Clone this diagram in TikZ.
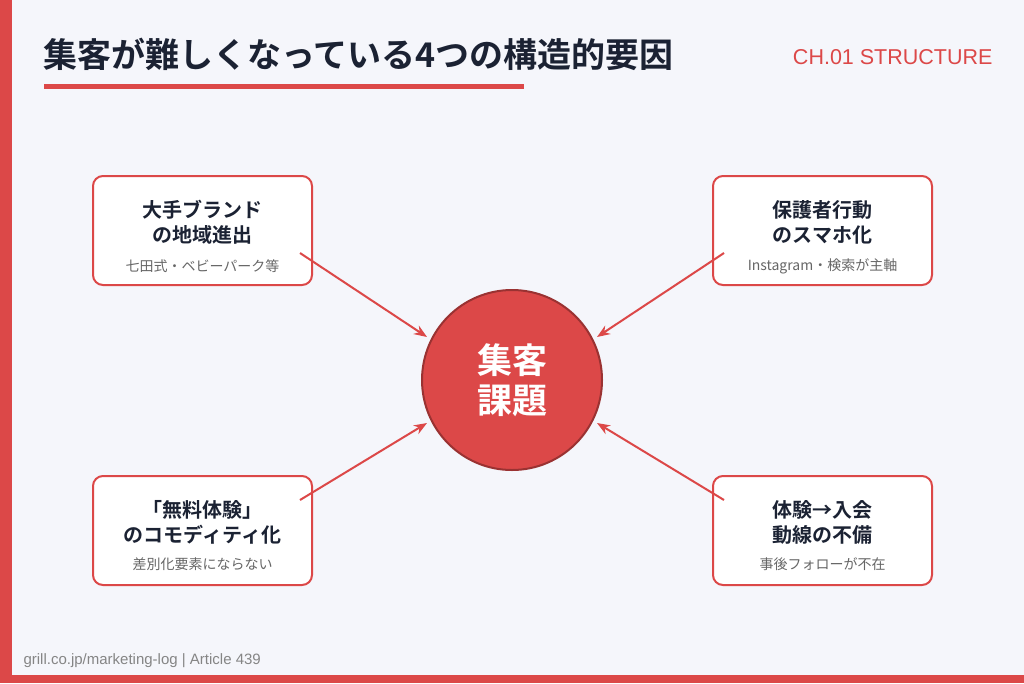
\documentclass[tikz,border=0pt]{standalone}
\usepackage{fontspec}
\setmainfont{Liberation Sans}
\newfontfamily\jp{Noto Sans CJK JP}
\newfontfamily\jpb{Noto Sans CJK JP Bold}
\usetikzlibrary{arrows.meta}
\definecolor{accent}{HTML}{DC4848}
\definecolor{navy}{HTML}{1B2233}
\definecolor{bg}{HTML}{F5F6FB}
\definecolor{sub}{HTML}{666666}
\tikzset{
 card/.style={draw=accent,line width=2pt,fill=white,rounded corners=10pt,minimum width=219pt,minimum height=109pt},
 ttl/.style={font=\jpb\fontsize{20}{25}\selectfont,text=navy,align=center},
 subt/.style={font=\jp\fontsize{14}{16}\selectfont,text=sub},
 conn/.style={draw=accent,line width=2pt,-{Stealth[length=13pt,width=10pt]}}
}
\begin{document}
\begin{tikzpicture}[x=1pt,y=-1pt]
\fill[bg] (0,0) rectangle (1024,683);
\useasboundingbox (0,0) rectangle (1024,683);
\fill[accent] (0,0) rectangle (12,683);
\fill[accent] (0,675) rectangle (1024,683);
\node[anchor=west,font=\jpb\fontsize{34}{40}\selectfont,text=navy] (title) at (40,54) {集客が難しくなっている4つの構造的要因};
\fill[accent] (44,84) rectangle (524,89);
\node[anchor=east,font=\fontsize{21.5}{26}\selectfont,text=accent] (ch) at (996,57) {CH.01 STRUCTURE};
\node[anchor=west,font=\fontsize{15}{18}\selectfont,text=sub!80] (foot) at (20,661) {grill.co.jp/marketing-log | Article 439};

\node[circle,draw=accent!70!black,line width=2pt,fill=accent,minimum size=180pt,font=\jpb\fontsize{35}{40}\selectfont,text=white,align=center] (c) at (512,380) {集客\\課題};

\node[card] (tl) at (202.5,230.5) {};
\node[ttl] at (202.5,222) {大手ブランド\\の地域進出};
\node[subt] at (202.5,266) {七田式・ベビーパーク等};
\node[card] (tr) at (822.5,230.5) {};
\node[ttl] at (822.5,222) {保護者行動\\のスマホ化};
\node[subt] at (822.5,266) {Instagram・検索が主軸};
\node[card] (bl) at (202.5,530.5) {};
\node[ttl] at (202.5,522) {「無料体験」\\のコモディティ化};
\node[subt] at (202.5,564) {差別化要素にならない};
\node[card] (br) at (822.5,530.5) {};
\node[ttl] at (822.5,522) {体験→入会\\動線の不備};
\node[subt] at (822.5,564) {事後フォローが不在};

\draw[conn] (300,253) -- (427,337);
\draw[conn] (724,253) -- (597,337);
\draw[conn] (300,500) -- (427,423);
\draw[conn] (724,500) -- (597,423);
\end{tikzpicture}
\end{document}
